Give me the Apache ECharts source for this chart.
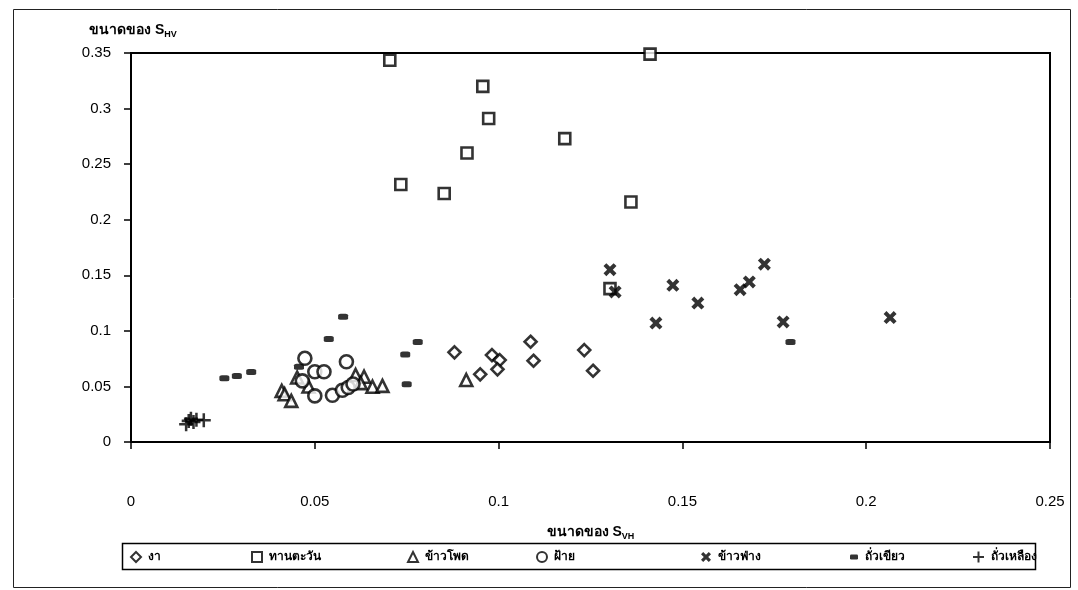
<!DOCTYPE html>
<html>
<head>
<meta charset="utf-8">
<script src="https://cdn.jsdelivr.net/npm/echarts@6/dist/echarts.min.js"></script>
<style>html,body{margin:0;padding:0;background:#fff;}#c{width:1078px;height:590px;}</style>
</head>
<body>
<div id="c"></div>
<script>
// ---- data (x = S_VH, y = S_HV) ----
const seriesNames = ['งา', 'ทานตะวัน', 'ข้าวโพด', 'ฝ้าย', 'ข้าวฟ่าง', 'ถั่วเขียว', 'ถั่วเหลือง'];
const sesame = [[0.088,0.0807],[0.095,0.0609],[0.0982,0.0782],[0.1003,0.0737],[0.0997,0.0654],[0.1087,0.0902],[0.1095,0.0731],[0.1233,0.0827],[0.1257,0.0641]];
const sunflower = [[0.0704,0.3435],[0.0957,0.320],[0.0973,0.291],[0.118,0.273],[0.0914,0.260],[0.0734,0.2317],[0.0852,0.2236],[0.136,0.216],[0.1412,0.349],[0.1303,0.138]];
const corn = [[0.0410,0.046],[0.0418,0.043],[0.0436,0.037],[0.0452,0.058],[0.0483,0.050],[0.0611,0.0603],[0.0634,0.0587],[0.0625,0.053],[0.0657,0.0497],[0.0684,0.0505],[0.0912,0.0558]];
const cotton = [[0.0473,0.0753],[0.0466,0.055],[0.050,0.0632],[0.0525,0.0632],[0.050,0.0415],[0.0548,0.042],[0.0586,0.0722],[0.0575,0.0465],[0.0591,0.049],[0.0604,0.0522]];
const sorghum = [[0.1303,0.155],[0.1317,0.135],[0.1474,0.141],[0.1542,0.125],[0.1428,0.107],[0.1657,0.137],[0.1682,0.144],[0.1723,0.160],[0.1774,0.108],[0.2065,0.112]];
const mungbean = [[0.0254,0.0573],[0.0288,0.0594],[0.0327,0.063],[0.0457,0.0677],[0.0538,0.0926],[0.0577,0.1127],[0.0746,0.0788],[0.078,0.090],[0.075,0.052],[0.1794,0.090]];
const soybean = [[0.0150,0.016],[0.0157,0.019],[0.0163,0.021],[0.0170,0.018],[0.0178,0.020],[0.0198,0.0195]];
const xTicks = [0, 0.25, 0.05];   // min, max, interval
const yTicks = [0, 0.35, 0.05];
const xName = 'ขนาดของ S';
const xSub = 'VH';
const yName = 'ขนาดของ S';
const ySub = 'HV';

const allData = [sesame, sunflower, corn, cotton, sorghum, mungbean, soybean];

const FONT = 'Liberation Sans, Arial, sans-serif';
const X_PATH = 'path://M2.2,0L5,2.8L7.8,0L10,2.2L7.2,5L10,7.8L7.8,10L5,7.2L2.2,10L0,7.8L2.8,5L0,2.2Z';
const PLUS_PATH = 'path://M4.1,0H5.9V4.1H10V5.9H5.9V10H4.1V5.9H0V4.1H4.1Z';
const hollow = {color:'#fff', borderColor:'#000', borderWidth:2.6};
const styles = [
  {symbol:'diamond', symbolSize:12, itemStyle:hollow},
  {symbol:'rect', symbolSize:11, itemStyle:hollow},
  {symbol:'triangle', symbolSize:12, itemStyle:hollow},
  {symbol:'circle', symbolSize:13, itemStyle:hollow},
  {symbol:X_PATH, symbolSize:13, itemStyle:{color:'#000'}},
  {symbol:'roundRect', symbolSize:[10,6], itemStyle:{color:'#000'}},
  {symbol:PLUS_PATH, symbolSize:14, itemStyle:{color:'#000'}}
];

const legendLeft = [125, 246, 402, 531, 696, 845, 968];
const legendIcon = [[10,10],[10,10],[10,10],[10,10],[10,10],[8,5],[11,11]];
const legends = seriesNames.map((n, i) => ({
  data:[n], left:legendLeft[i], top:546, itemWidth:legendIcon[i][0], itemHeight:legendIcon[i][1], itemGap:0,
  textStyle:{fontFamily:FONT, fontSize:12, color:'#000', fontWeight:'bold', padding:[0,0,0,2]},
  selectedMode:false
}));

const chart = echarts.init(document.getElementById('c'), null, {renderer:'canvas'});
chart.setOption({
  animation:false,
  backgroundColor:'#fff',
  grid:{left:131, top:53, right:28, bottom:148, show:true, borderColor:'#000', borderWidth:2, backgroundColor:'transparent'},
  legend: legends,
  xAxis:{
    type:'value', min:xTicks[0], max:xTicks[1], interval:xTicks[2],
    name:'{a|' + xName + '}{s|' + xSub + '}', nameLocation:'middle', nameGap:82,
    nameTextStyle:{rich:{a:{fontFamily:FONT, fontSize:14, fontWeight:'bold', color:'#000'}, s:{fontFamily:FONT, fontSize:9, fontWeight:'bold', color:'#000', padding:[8,0,0,0]}}},
    axisLine:{show:true, lineStyle:{color:'#000', width:2}},
    axisTick:{show:true, length:7, lineStyle:{color:'#000', width:1.5}},
    axisLabel:{margin:52, fontFamily:FONT, fontSize:15, color:'#000'},
    splitLine:{show:false}
  },
  yAxis:{
    type:'value', min:yTicks[0], max:yTicks[1], interval:yTicks[2],
    name:'{a|' + yName + '}{s|' + ySub + '}', nameLocation:'end', nameGap:14,
    nameTextStyle:{align:'left', padding:[0,0,0,-42], rich:{a:{fontFamily:FONT, fontSize:14, fontWeight:'bold', color:'#000'}, s:{fontFamily:FONT, fontSize:9, fontWeight:'bold', color:'#000', padding:[8,0,0,0]}}},
    axisLine:{show:true, lineStyle:{color:'#000', width:2}},
    axisTick:{show:true, length:7, lineStyle:{color:'#000', width:1.5}},
    axisLabel:{margin:20, fontFamily:FONT, fontSize:15, color:'#000'},
    splitLine:{show:false}
  },
  series: seriesNames.map((n, i) => Object.assign({
    name:n, type:'scatter', data:allData[i], z:2 + (i === 1 ? 0 : 1)
  }, styles[i])),
  graphic:[
    {type:'rect', left:11, top:7, shape:{width:1057, height:578}, style:{fill:'none', stroke:'#222', lineWidth:1}, silent:true},
    {type:'rect', left:120, top:541, shape:{width:913, height:26}, style:{fill:'none', stroke:'#000', lineWidth:1.5}, silent:true}
  ]
});
</script>
</body>
</html>
